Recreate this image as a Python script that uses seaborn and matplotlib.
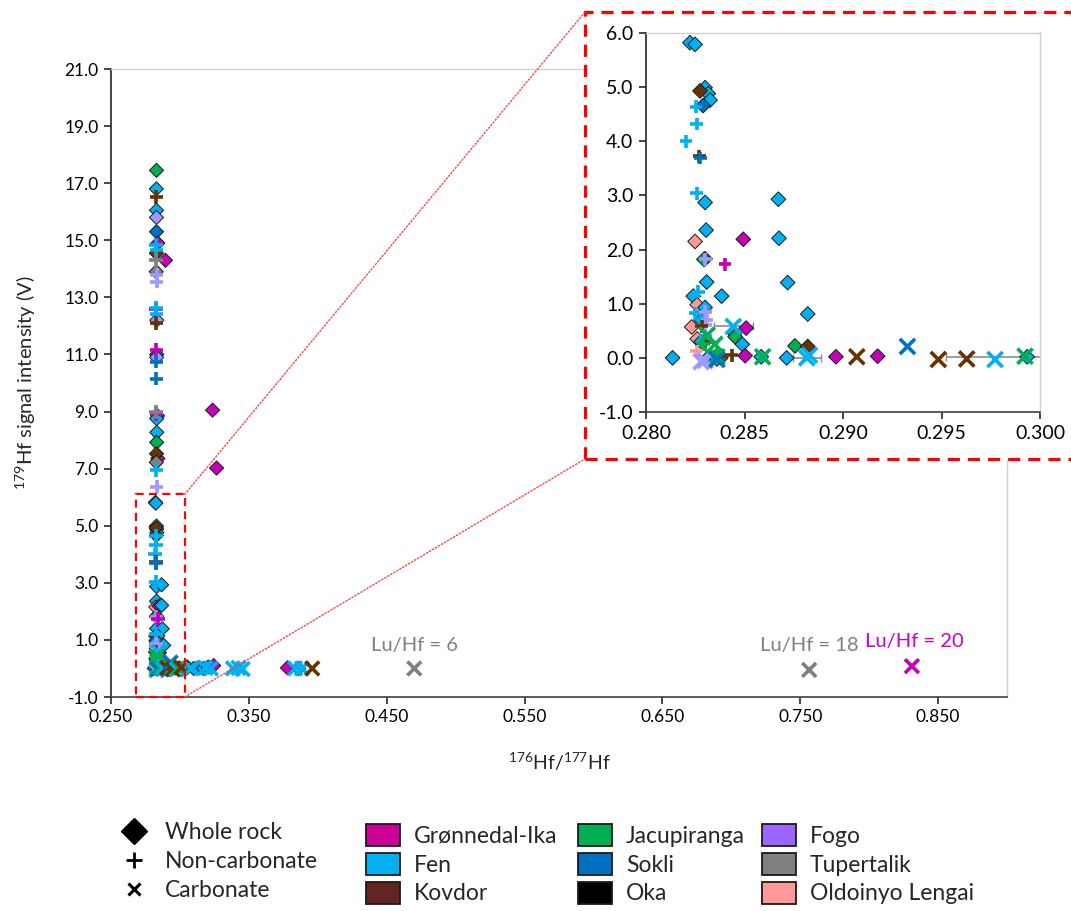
import matplotlib
matplotlib.use("Agg")
import matplotlib.pyplot as plt
import numpy as np
import pandas as pd
import seaborn as sns
from matplotlib.patches import Rectangle, Patch, ConnectionPatch
from matplotlib.lines import Line2D
from matplotlib.ticker import FormatStrFormatter

sns.set_theme(style="ticks")
plt.rcParams["font.family"] = ["Lato", "DejaVu Sans"]
plt.rcParams["mathtext.fontset"] = "custom"
plt.rcParams["mathtext.rm"] = "Lato"
plt.rcParams["mathtext.it"] = "Lato:italic"

# ---- localities -------------------------------------------------------------
site_names = {
    "GI": "Grønnedal-Ika", "FE": "Fen", "KO": "Kovdor", "JA": "Jacupiranga",
    "SO": "Sokli", "OK": "Oka", "FG": "Fogo", "TU": "Tupertalik",
    "OL": "Oldoinyo Lengai",
}
legend_order = ["GI", "FE", "KO", "JA", "SO", "OK", "FG", "TU", "OL"]
legend_colors = ["#CC0099", "#00B0F0", "#632523", "#00B050", "#0070C0",
                 "#000000", "#9966FF", "#808080", "#FF9999"]
point_colors = ["#C400B8", "#00B0F0", "#663300", "#00B050", "#0070C0",
                "#000000", "#9F99FF", "#808080", "#FF9999"]

# ---- whole rock (diamonds) ------------------------------------------------------
wr_site = ["JA", "FE", "FE", "FG", "SO", "GI", "KO", "GI", "TU", "FG",
           "SO", "FG", "GI", "FE", "FE", "JA", "GI", "KO", "TU", "GI",
           "GI", "FE", "FE", "FE", "FE", "FE", "SO", "KO", "FE", "FE",
           "FE", "OL", "GI", "FE", "FE", "JA", "FE", "FE", "FE", "FE",
           "OL", "FE", "FE", "FE", "OL", "GI", "FE", "JA", "OL", "FE",
           "FE", "JA", "KO", "FE", "FE", "FE", "SO", "GI", "FE", "FE",
           "GI", "GI", "FE", "FE", "FE", "FE", "FE", "FE", "GI", "GI",
           "FE"]
wr_x = [0.2830, 0.2829, 0.2830, 0.2830, 0.2830, 0.2840, 0.2829, 0.2895, 0.2828, 0.2832,
        0.2832, 0.2831, 0.2838, 0.2831, 0.2832, 0.2831, 0.2840, 0.2830, 0.2829, 0.3237,
        0.3266, 0.28223, 0.28249, 0.28300, 0.28316, 0.28325, 0.28290, 0.28274, 0.28300, 0.28672,
        0.28305, 0.28249, 0.28494, 0.28675, 0.28300, 0.28294, 0.28308, 0.28719, 0.28240, 0.28384,
        0.28260, 0.28300, 0.28821, 0.28280, 0.28232, 0.28508, 0.28450, 0.28452, 0.28260, 0.28280,
        0.28489, 0.28756, 0.28821, 0.28135, 0.28320, 0.28360, 0.28380, 0.28503, 0.28585, 0.28714,
        0.28964, 0.29176, 0.29935, 0.3055, 0.3100, 0.3135, 0.3170, 0.3205, 0.3245, 0.3780,
        0.3860]
wr_y = [17.45, 16.80, 16.05, 15.80, 15.30, 14.90, 14.55, 14.30, 13.90, 12.20,
        11.00, 10.90, 8.85, 8.75, 8.27, 7.92, 7.35, 7.52, 7.22, 9.05,
        7.02, 5.82, 5.79, 4.99, 4.88, 4.76, 4.66, 4.93, 2.87, 2.93,
        2.36, 2.15, 2.19, 2.21, 1.83, 1.82, 1.40, 1.39, 1.14, 1.14,
        0.98, 0.93, 0.81, 0.70, 0.57, 0.55, 0.45, 0.39, 0.35, 0.30,
        0.25, 0.22, 0.21, 0.00, 0.02, -0.02, 0.00, 0.04, 0.02, 0.00,
        0.02, 0.03, 0.02, 0.05, 0.00, 0.02, 0.00, 0.05, 0.10, 0.02,
        0.00]

# ---- non-carbonate minerals (plus) ------------------------------------------
nc_site = ["KO", "FE", "FE", "TU", "FG", "FG", "GI", "FE", "FE", "KO",
           "GI", "SO", "SO", "GI", "TU", "FE", "FG", "FE", "FE", "FE",
           "KO", "SO", "FE", "FG", "GI", "FE", "FE", "FG", "FG", "FG",
           "KO", "FE", "KO", "JA", "OL", "JA", "KO", "KO"]
nc_x = [0.2830, 0.2828, 0.2829, 0.2826, 0.2831, 0.2831, 0.2828, 0.2829, 0.2830, 0.2830,
        0.2829, 0.2830, 0.2830, 0.2830, 0.2828, 0.2830, 0.2831, 0.28254, 0.28257, 0.28203,
        0.28271, 0.28276, 0.28257, 0.28300, 0.28401, 0.28266, 0.28250, 0.28300, 0.28310, 0.28300,
        0.28283, 0.28300, 0.28300, 0.28290, 0.28257, 0.28368, 0.28380, 0.28435]
nc_y = [16.52, 14.85, 14.65, 14.30, 13.80, 13.55, 12.58, 12.62, 12.40, 12.10,
        11.15, 10.75, 10.15, 8.92, 8.98, 6.95, 6.37, 4.64, 4.32, 4.00,
        3.72, 3.69, 3.04, 1.82, 1.73, 1.22, 0.82, 0.85, 0.70, 0.60,
        0.58, 0.40, 0.30, 0.25, 0.12, 0.04, 0.04, 0.05]

# ---- carbonate minerals (cross) ---------------------------------------------
cb_site = ["FE", "JA", "JA", "JA", "JA", "FG", "FG", "SO", "JA", "FE",
           "FE", "KO", "SO", "KO", "KO", "FE", "JA", "KO", "FE", "FE",
           "FE", "FE", "FE", "FE", "FE", "FE", "KO", "TU", "TU", "GI"]
cb_x = [0.28443, 0.28310, 0.28350, 0.28330, 0.28360, 0.28280, 0.28300, 0.28360, 0.28592, 0.28816,
        0.28830, 0.29070, 0.29327, 0.29484, 0.29628, 0.29772, 0.29924, 0.3010, 0.3080, 0.3185,
        0.3225, 0.3385, 0.3425, 0.3455, 0.3835, 0.3885, 0.3960, 0.4700, 0.7565, 0.8310]
cb_y = [0.58, 0.42, 0.25, 0.05, 0.02, -0.07, -0.05, -0.03, 0.02, 0.00,
        0.05, 0.02, 0.21, -0.03, -0.02, -0.03, 0.03, 0.03, 0.00, 0.02,
        0.00, 0.00, 0.02, -0.02, 0.00, 0.00, 0.00, 0.00, -0.05, 0.08]

# ---- horizontal uncertainties on a few analyses -------------------------
err_x = [0.28443, 0.28816, 0.29935]
err_y = [0.58, 0.00, 0.02]
err_dx = [0.0010, 0.0007, 0.0041]

# ---- Lu/Hf annotations ----------------------------------------------------
ann_text = ["Lu/Hf = 6", "Lu/Hf = 18", "Lu/Hf = 20"]
ann_x = [0.470, 0.7565, 0.8330]
ann_y = [0.80, 0.80, 0.95]
ann_color = ["#808080", "#808080", "#CC00CC"]


def frame(x, y, s):
    return pd.DataFrame({"x": x, "y": y,
                         "site": [site_names[c] for c in s]})


wr = frame(wr_x, wr_y, wr_site)
nc = frame(nc_x, nc_y, nc_site)
cb = frame(cb_x, cb_y, cb_site)
palette = {site_names[c]: col for c, col in zip(legend_order, point_colors)}

W, H = 1071, 911
fig = plt.figure(figsize=(W / 100, H / 100), dpi=100)


def px_box(l, t, r, b):
    return [l / W, 1 - b / H, (r - l) / W, (b - t) / H]


def draw_points(ax, d_size, p_size, x_size):
    sns.scatterplot(data=wr, x="x", y="y", hue="site", palette=palette,
                    marker="D", s=d_size, edgecolor="#1a1a1a", linewidth=0.7,
                    legend=False, ax=ax, zorder=3)
    sns.scatterplot(data=nc, x="x", y="y", hue="site", palette=palette,
                    marker="+", s=p_size, linewidth=2.6,
                    legend=False, ax=ax, zorder=4)
    sns.scatterplot(data=cb, x="x", y="y", hue="site", palette=palette,
                    marker="x", s=x_size, linewidth=2.6,
                    legend=False, ax=ax, zorder=5)
    ax.errorbar(err_x, err_y, xerr=err_dx, fmt="none", ecolor="#8C8C8C",
                elinewidth=1.2, capsize=3, zorder=2)


def style_axes(ax, fs):
    ax.set_xlabel("")
    ax.set_ylabel("")
    for side in ("top", "right"):
        ax.spines[side].set_color("#D0D0D0")
        ax.spines[side].set_linewidth(1.0)
    ax.spines["left"].set_color("#262626")
    ax.spines["bottom"].set_color("#404040")
    ax.spines["left"].set_linewidth(1.2)
    ax.spines["bottom"].set_linewidth(1.2)
    ax.tick_params(axis="both", direction="out", length=5, width=1.2,
                   color="#262626", labelsize=fs, labelcolor="black", pad=4)


# ---- main panel -----------------------------------------------------------
ax = fig.add_axes(px_box(111, 69, 1007, 697))
ax.set_zorder(0)
draw_points(ax, 52, 95, 100)
ax.set_xlim(0.25, 0.90)
ax.set_ylim(-1.0, 21.0)
ax.set_xticks(np.arange(0.25, 0.851, 0.1))
ax.set_yticks(np.arange(-1.0, 21.01, 2.0))
ax.xaxis.set_major_formatter(FormatStrFormatter("%.3f"))
ax.yaxis.set_major_formatter(FormatStrFormatter("%.1f"))
style_axes(ax, 12.5)
ax.set_xlabel(r"$^{176}$Hf/$^{177}$Hf", fontsize=14, labelpad=18)
ax.set_ylabel(r"$^{179}$Hf signal intensity (V)", fontsize=14.5, labelpad=19)

for t, x, y, c in zip(ann_text, ann_x, ann_y, ann_color):
    ax.text(x, y, t, color=c, fontsize=14.5, ha="center", va="center")

# zoom window in the main panel
zoom_box = Rectangle((0.268, -1.0), 0.0355, 7.1, fill=False, edgecolor="#FF0000",
                     linewidth=1.6, linestyle=(0, (3.6, 2.4)), clip_on=False,
                     zorder=6)
ax.add_patch(zoom_box)

# ---- inset panel --------------------------------------------------------
inset_frame = Rectangle((585 / W, 1 - 459 / H), (1090 - 585) / W, (459 - 12) / H,
                        transform=fig.transFigure, facecolor="white",
                        edgecolor="#FF0000", linewidth=2.3,
                        linestyle=(0, (3.8, 2.5)), zorder=1)
fig.add_artist(inset_frame)

for xa, ya, xb, yb in [(0.3035, 6.1, 585, 12), (0.3035, -1.0, 585, 459)]:
    con = ConnectionPatch(xyA=(xa, ya), coordsA=ax.transData,
                          xyB=(xb / W, 1 - yb / H), coordsB=fig.transFigure,
                          color="#FF4040", linewidth=1.0, linestyle=(0, (1, 1.5)),
                          zorder=1)
    fig.add_artist(con)

axi = fig.add_axes(px_box(646, 33, 1040, 412))
axi.set_zorder(2)
axi.patch.set_facecolor("white")
draw_points(axi, 56, 85, 120)
axi.set_xlim(0.280, 0.300)
axi.set_ylim(-1.0, 6.0)
axi.set_xticks(np.arange(0.280, 0.3001, 0.005))
axi.set_yticks(np.arange(-1.0, 6.01, 1.0))
axi.xaxis.set_major_formatter(FormatStrFormatter("%.3f"))
axi.yaxis.set_major_formatter(FormatStrFormatter("%.1f"))
style_axes(axi, 14)

# ---- legends ----------------------------------------------------------------
fs_leg = 16.5
mk_handles = [
    Line2D([], [], marker="D", color="black", linestyle="", markersize=13),
    Line2D([], [], marker="+", color="black", linestyle="", markersize=11,
           markeredgewidth=2.0),
    Line2D([], [], marker="x", color="black", linestyle="", markersize=9,
           markeredgewidth=2.2),
]
fig.legend(mk_handles, ["Whole rock", "Non-carbonate", "Carbonate"],
           loc="upper left", bbox_to_anchor=(121 / W, 1 - 822 / H),
           frameon=False, fontsize=fs_leg, borderpad=0, borderaxespad=0,
           handlelength=1.15, handletextpad=0.75, labelspacing=0.35)

col_x = [366, 578, 762]
for i, left in enumerate(col_x):
    codes = legend_order[3 * i: 3 * i + 3]
    handles = [Patch(facecolor=legend_colors[legend_order.index(c)],
                     edgecolor="#1a1a1a", linewidth=1.3) for c in codes]
    fig.legend(handles, [site_names[c] for c in codes],
               loc="upper left", bbox_to_anchor=(left / W, 1 - 824 / H),
               frameon=False, fontsize=fs_leg, borderpad=0, borderaxespad=0,
               handlelength=1.5, handleheight=1.1, handletextpad=0.6,
               labelspacing=0.26)

fig.savefig("out.png", dpi=100)
